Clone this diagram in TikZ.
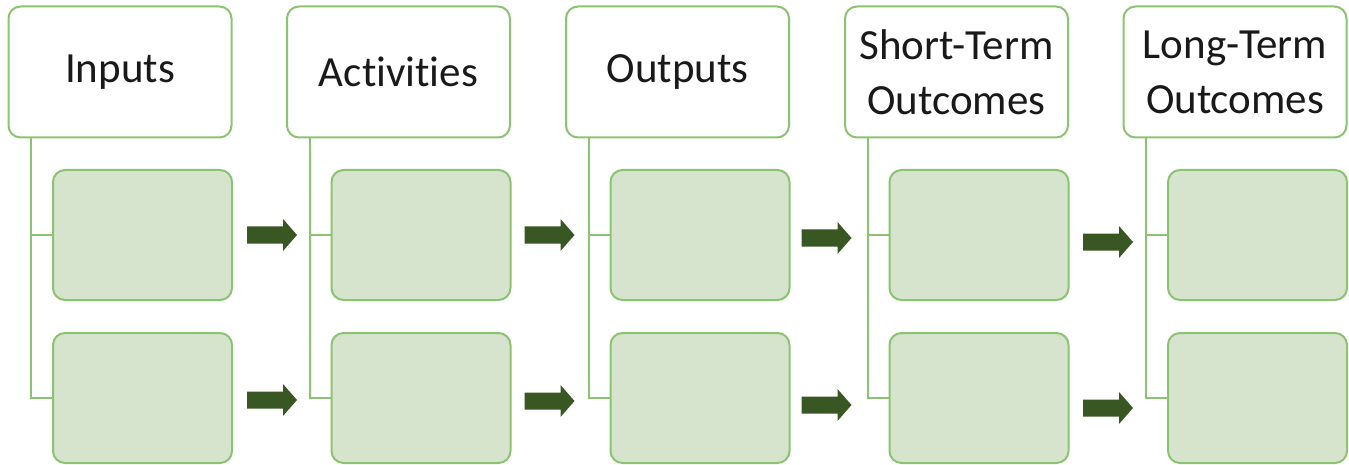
\documentclass[tikz,border=0pt]{standalone}
\usepackage{fontspec}
\setmainfont{Carlito}[Ligatures={NoCommon}]
\definecolor{bordergreen}{RGB}{140,195,115}
\definecolor{fillgreen}{RGB}{214,228,206}
\definecolor{arrowgreen}{RGB}{56,87,35}
\definecolor{txt}{RGB}{25,25,25}
\begin{document}
\begin{tikzpicture}[x=1pt,y=-1pt,
  headbox/.style={draw=bordergreen, line width=2pt, fill=white, rounded corners=12pt,
    minimum width=223pt, minimum height=131pt, inner sep=0pt, align=center,
    font=\fontsize{43}{55}\selectfont, text=txt},
  itembox/.style={draw=bordergreen, line width=2pt, fill=fillgreen, rounded corners=12pt,
    minimum width=179pt, minimum height=130pt, inner sep=0pt},
  link/.style={draw=bordergreen, line width=2pt},
  flow/.style={fill=arrowgreen, draw=none}
]
\useasboundingbox (0,0) rectangle (1349,465);
\fill[white] (0,0) rectangle (1349,465);

\foreach \i/\cx/\lab in {1/120/{Inputs}, 2/398.5/{Activities}, 3/677.5/{Outputs},
  4/956.5/{Short-Term\\Outcomes}, 5/1235/{Long-Term\\Outcomes}} {
  \node[headbox] (t\i) at (\cx,72) {\lab};
  \node[itembox] (g\i a) at (\cx+22.5,235) {};
  \node[itembox] (g\i b) at (\cx+22.5,398) {};
  \coordinate (c\i) at (\cx-89,137);
  \draw[link] (c\i) |- (g\i a.west);
  \draw[link] (c\i) |- (g\i b.west);
}

\foreach \n/\ax/\ay in {a1/247/235, b1/247/400, a2/524.5/235, b2/524.5/401,
  a3/801.5/238, b3/801.5/405, a4/1083/242, b4/1083/408} {
  \coordinate (\n) at (\ax,\ay);
  \fill[flow] ([yshift=8.5pt]\n) -- ++(36,0) -- ++(0,-7.5) -- ++(14,16) -- ++(-14,16)
    -- ++(0,-7.5) -- ++(-36,0) -- cycle;
}
\end{tikzpicture}
\end{document}
